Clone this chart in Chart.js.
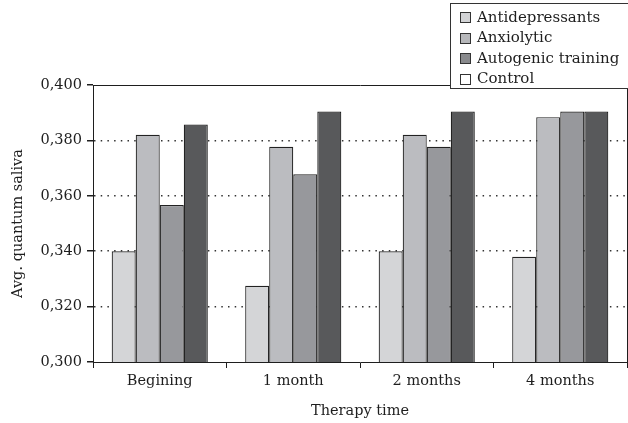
<!DOCTYPE html>
<html>
<head>
<meta charset="utf-8">
<script src="https://cdn.jsdelivr.net/npm/chart.js@4"></script>
<style>
  html, body { margin: 0; padding: 0; background: #fff; }
  #wrap { width: 628px; height: 423px; }
</style>
</head>
<body>
<div id="wrap"><canvas id="chart" width="628" height="423"></canvas></div>
<script>
var categories = ['Begining', '1 month', '2 months', '4 months'];
var seriesNames = ['Antidepressants', 'Anxiolytic', 'Autogenic training', 'Control'];
var antidepressants = [0.340, 0.3275, 0.340, 0.338];
var anxiolytic = [0.382, 0.3777, 0.382, 0.3884];
var autogenic = [0.3567, 0.3678, 0.3777, 0.3904];
var control = [0.3857, 0.3904, 0.3904, 0.3904];
var yTicks = [0.300, 0.320, 0.340, 0.360, 0.380, 0.400];

var barColors = ['#d4d5d7', '#bbbcc0', '#97989c', '#58595b'];
var legendColors = ['#d2d3d5', '#b6b7ba', '#898a8d', '#ffffff'];
var ink = '#1e1e1e';
var fontFamily = '"DejaVu Serif", serif';

var seriesValues = [antidepressants, anxiolytic, autogenic, control];
var datasets = seriesNames.map(function (name, i) {
    return {
        label: name,
        data: seriesValues[i],
        backgroundColor: barColors[i],
        borderColor: '#222',
        borderWidth: 1.2,
        borderSkipped: false,
        categoryPercentage: 0.72,
        barPercentage: 1.0
    };
});

// frame on top/right and the boxed legend in the upper right corner
var framePlugin = {
    id: 'frameAndLegend',
    afterDraw: function (chart) {
        var ctx = chart.ctx;
        var a = chart.chartArea;
        ctx.save();
        ctx.strokeStyle = ink;
        ctx.lineWidth = 1;
        ctx.beginPath();
        ctx.moveTo(Math.round(a.left) + 0.5, Math.round(a.top) + 0.5);
        ctx.lineTo(Math.round(a.right) + 0.5, Math.round(a.top) + 0.5);
        ctx.lineTo(Math.round(a.right) + 0.5, Math.round(a.bottom) + 0.5);
        ctx.stroke();

        ctx.fillStyle = '#fff';
        ctx.fillRect(450, 3, 185, 85);
        ctx.strokeStyle = '#333';
        ctx.strokeRect(450.5, 3.5, 185, 85);

        ctx.font = '15px ' + fontFamily;
        ctx.textBaseline = 'middle';
        ctx.textAlign = 'left';
        seriesNames.forEach(function (name, i) {
            var cy = 17 + i * 20.5;
            ctx.fillStyle = legendColors[i];
            ctx.fillRect(460.5, Math.round(cy - 5) + 0.5, 10, 10);
            ctx.strokeStyle = '#333';
            ctx.strokeRect(460.5, Math.round(cy - 5) + 0.5, 10, 10);
            ctx.fillStyle = ink;
            ctx.fillText(name, 477, cy + 1);
        });
        ctx.restore();
    }
};

new Chart(document.getElementById('chart'), {
    type: 'bar',
    data: { labels: categories, datasets: datasets },
    options: {
        responsive: false,
        animation: false,
        devicePixelRatio: 1,
        layout: { padding: { top: 85, right: 1, left: 0, bottom: 0 } },
        plugins: {
            legend: { display: false },
            tooltip: { enabled: false }
        },
        scales: {
            x: {
                afterFit: function (scale) { scale.height = 61; },
                grid: {
                    offset: true,
                    drawOnChartArea: false,
                    drawTicks: true,
                    tickLength: 6,
                    tickColor: ink
                },
                border: { display: true, color: ink, width: 1 },
                ticks: { color: ink, padding: 5, font: { family: fontFamily, size: 14.5 } },
                title: {
                    display: true,
                    text: 'Therapy time',
                    color: ink,
                    padding: { top: 0, bottom: 3 },
                    font: { family: fontFamily, size: 14.5 }
                }
            },
            y: {
                min: 0.3,
                max: 0.4,
                afterFit: function (scale) { scale.width = 93; },
                afterBuildTicks: function (scale) {
                    scale.ticks = yTicks.map(function (v) { return { value: v }; });
                },
                grid: {
                    drawTicks: true,
                    tickLength: 6,
                    tickColor: ink,
                    lineWidth: 1.5,
                    color: function (c) {
                        var v = c.tick ? c.tick.value : null;
                        if (v === null || Math.abs(v - 0.3) < 1e-6 || Math.abs(v - 0.4) < 1e-6) return 'rgba(0,0,0,0)';
                        return '#333';
                    }
                },
                border: { display: true, color: ink, width: 1, dash: [1.5, 5.2] },
                ticks: {
                    color: ink,
                    padding: 5,
                    font: { family: fontFamily, size: 14.5 },
                    callback: function (v) { return Number(v).toFixed(3).replace('.', ','); }
                },
                title: {
                    display: true,
                    text: 'Avg. quantum saliva',
                    color: ink,
                    padding: { top: 10, bottom: 0 },
                    font: { family: fontFamily, size: 14.5 }
                }
            }
        }
    },
    plugins: [framePlugin]
});
</script>
</body>
</html>
